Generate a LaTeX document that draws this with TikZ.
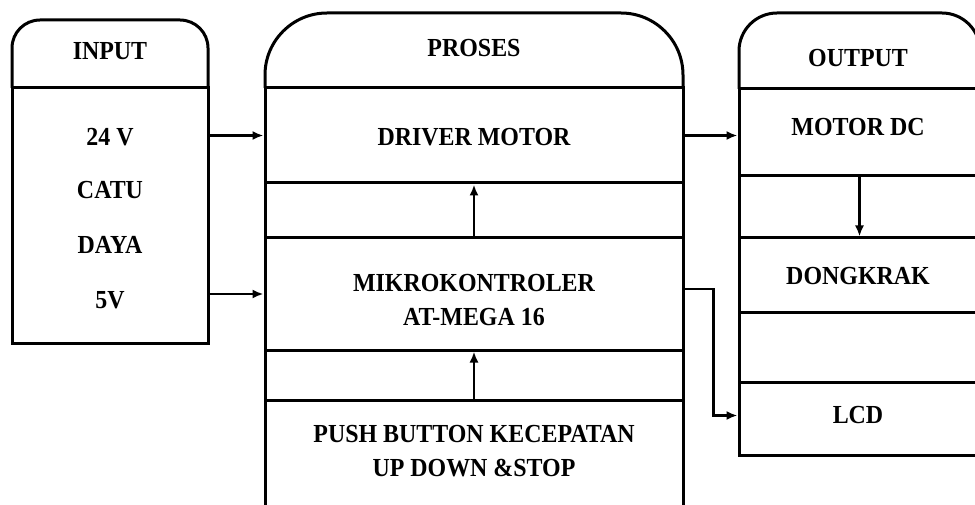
\documentclass[tikz,border=0pt]{standalone}
\usepackage{fontspec}
\setmainfont{Liberation Serif}[FakeStretch=0.92]
\usetikzlibrary{arrows.meta,positioning}
\tikzset{>={Latex[length=11pt,width=9pt]},
  every node/.style={font=\fontsize{26}{34}\selectfont\bfseries,align=center},
  frame/.style={draw,line width=3pt,line join=round},
  cell/.style={draw,line width=3pt,rectangle,inner sep=0pt},
  link/.style={->,line width=2.2pt}}
\begin{document}
\begin{tikzpicture}[x=1pt,y=-1pt]
\useasboundingbox (0,0) rectangle (975,505);
% input
\draw[frame,rounded corners=28pt] (12,88)--(12,20)--(208,20)--(208,88);
\node (inhead) at (110,51) {INPUT};
\node[cell,minimum width=196pt,minimum height=255pt] (inbody) at (110,215.5) {};
\foreach \t/\y in {24 V/137,CATU/190,DAYA/245,5V/300}{\node (in\y) at (110,\y) {\t};}
% proses
\draw[frame,rounded corners=62pt] (265,88)--(265,13)--(683,13)--(683,88);
\node (prhead) at (474,48) {PROSES};
\node[cell,minimum width=418pt,minimum height=95pt] (drv) at (474,135.5) {};
\node[cell,minimum width=418pt,minimum height=55pt] (gapa) at (474,210.5) {};
\node[cell,minimum width=418pt,minimum height=112pt] (mik) at (474,294) {};
\node[cell,minimum width=418pt,minimum height=50pt] (gapb) at (474,375) {};
\node[cell,minimum width=418pt,minimum height=115pt] (push) at (474,457.5) {};
\node (drvtxt) at (474,137.5) {DRIVER MOTOR};
\node (miktxt) at (474,300) {MIKROKONTROLER\\AT-MEGA 16};
\node (pushtxt) at (474,451) {PUSH BUTTON KECEPATAN\\UP DOWN \&STOP};
% output
\draw[frame,rounded corners=38pt] (739,89)--(739,13)--(980,13)--(980,89);
\node (outhead) at (858,58) {OUTPUT};
\node[cell,minimum width=241pt,minimum height=87pt] (mot) at (859.5,132.5) {};
\node[cell,minimum width=241pt,minimum height=62pt] (gapc) at (859.5,207) {};
\node[cell,minimum width=241pt,minimum height=74pt] (dong) at (859.5,275) {};
\node[cell,minimum width=241pt,minimum height=70pt] (gapd) at (859.5,347) {};
\node[cell,minimum width=241pt,minimum height=73pt] (lcd) at (859.5,418.5) {};
\node (mottxt) at (858,127.5) {MOTOR DC};
\node (dongtxt) at (858,276) {DONGKRAK};
\node (lcdtxt) at (858,415) {LCD};
% connectors
\draw[link] (inbody.east |- drv.west)--(drv.west);
\draw[link] (inbody.east |- mik.west)--(mik.west);
\draw[link] (drv.east)--(drv.east -| mot.west);
\draw[link] (mik.north)--(drv.south);
\draw[link] (push.north)--(mik.south);
\draw[link] (mot.south)--(dong.north);
\draw[link] ([yshift=5pt]mik.east)--++(29,0)|-([yshift=3pt]lcd.west);
\end{tikzpicture}
\end{document}
